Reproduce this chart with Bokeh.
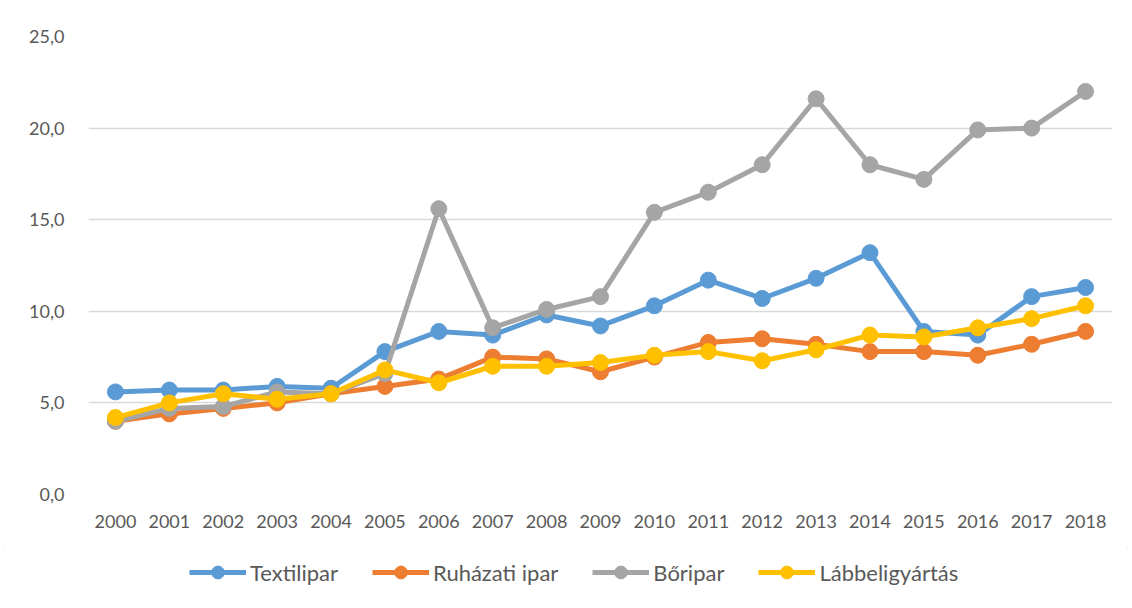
from bokeh.plotting import figure
from bokeh.layouts import column
from bokeh.models import FactorRange, Range1d, FixedTicker, Legend, LegendItem
from bokeh.embed import file_html
from bokeh.resources import INLINE

years = [str(y) for y in range(2000, 2019)]
textilipar = [5.6, 5.7, 5.7, 5.9, 5.8, 7.8, 8.9, 8.7, 9.8, 9.2, 10.3, 11.7, 10.7, 11.8, 13.2, 8.9, 8.7, 10.8, 11.3]
ruhazati = [4.0, 4.4, 4.7, 5.0, 5.5, 5.9, 6.3, 7.5, 7.4, 6.7, 7.5, 8.3, 8.5, 8.2, 7.8, 7.8, 7.6, 8.2, 8.9]
boripar = [4.0, 4.7, 4.8, 5.6, 5.5, 6.6, 15.6, 9.1, 10.1, 10.8, 15.4, 16.5, 18.0, 21.6, 18.0, 17.2, 19.9, 20.0, 22.0]
labbeli = [4.2, 5.0, 5.5, 5.2, 5.5, 6.8, 6.1, 7.0, 7.0, 7.2, 7.6, 7.8, 7.3, 7.9, 8.7, 8.6, 9.1, 9.6, 10.3]

series = [
    ("Textilipar", textilipar, "#5B9BD5"),
    ("Ruházati ipar", ruhazati, "#ED7D31"),
    ("Bőripar", boripar, "#A5A5A5"),
    ("Lábbeligyártás", labbeli, "#FFC000"),
]

y_ticks = [0, 5, 10, 15, 20, 25]
y_labels = {t: f"{t:.1f}".replace(".", ",") for t in y_ticks}

FONT = "Lato"
TXT = "#595959"
W = 1132

p = figure(width=W, height=548, x_range=FactorRange(factors=years, range_padding=0),
           y_range=Range1d(0, 25), output_backend="svg", toolbar_location=None,
           min_border_left=88, min_border_right=20, min_border_top=36, min_border_bottom=54)
p.outline_line_color = None
p.background_fill_color = "white"
p.border_fill_color = "white"

p.xgrid.grid_line_color = None
p.ygrid.grid_line_color = "#d9d9d9"
p.ygrid.grid_line_width = 1.3
p.yaxis.ticker = FixedTicker(ticks=y_ticks)
p.yaxis.major_label_overrides = y_labels

for ax in (p.xaxis, p.yaxis):
    ax.axis_line_color = None
    ax.major_tick_line_color = None
    ax.minor_tick_line_color = None
    ax.major_label_text_font = FONT
    ax.major_label_text_font_size = "18px"
    ax.major_label_text_color = TXT
p.yaxis.major_label_standoff = 18
p.xaxis.major_label_standoff = 14

for name, vals, col in series:
    p.line(years, vals, line_color=col, line_width=5, line_join="round")
    p.scatter(years, vals, size=16, fill_color=col, line_color=col)

# legend strip below the chart (series drawn off-range, only legend glyphs show)
lg = figure(width=W, height=60, x_range=FactorRange(factors=years), y_range=Range1d(100, 101),
            output_backend="svg", toolbar_location=None, min_border=0)
lg.axis.visible = False
lg.grid.grid_line_color = None
lg.outline_line_color = None
items = []
for name, vals, col in series:
    r1 = lg.line(years, vals, line_color=col, line_width=5)
    r2 = lg.scatter(years, vals, size=16, fill_color=col, line_color=col)
    items.append(LegendItem(label=name, renderers=[r1, r2]))
legend = Legend(items=items, orientation="horizontal", location=(101, 20),
                label_text_font=FONT, label_text_font_size="22px", label_text_color=TXT,
                glyph_width=57, glyph_height=32, spacing=34, border_line_color=None,
                background_fill_alpha=0, margin=0, padding=4, label_standoff=4)
lg.add_layout(legend, "center")

layout = column(p, lg, spacing=0,
                styles={"display": "block", "width": "1132px", "height": "608px",
                        "outline": "1px solid #d9d9d9", "outline-offset": "-5px"})
open("out.html", "w").write(file_html(layout, INLINE))
